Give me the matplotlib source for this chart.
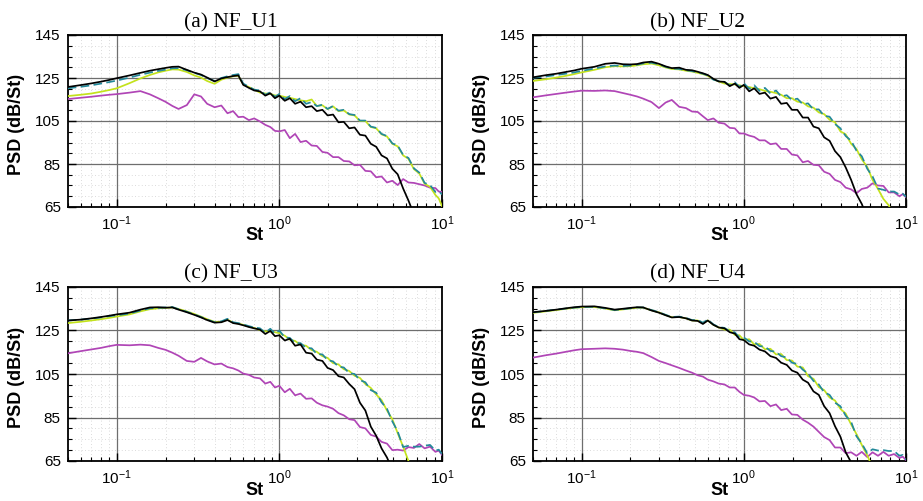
import matplotlib
matplotlib.use("Agg")
import matplotlib.pyplot as plt
from matplotlib.ticker import (FixedLocator, MultipleLocator, LogLocator,
                               LogFormatterSciNotation, NullFormatter)

plt.rcParams["font.family"] = ["Liberation Sans", "DejaVu Sans"]
plt.rcParams["mathtext.fontset"] = "custom"
plt.rcParams["mathtext.rm"] = "Liberation Sans"
plt.rcParams["mathtext.it"] = "Liberation Sans:italic"
plt.rcParams["mathtext.bf"] = "Liberation Sans:bold"
plt.rcParams["axes.unicode_minus"] = False

# Strouhal number grid shared by all spectra
ST = [0.05, 0.06, 0.07, 0.08, 0.09,
      0.10, 0.12, 0.14, 0.16, 0.18,
      0.20, 0.22, 0.24, 0.27, 0.30,
      0.33, 0.36, 0.40, 0.44, 0.48,
      0.52, 0.56, 0.60, 0.65, 0.70,
      0.76, 0.82, 0.88, 0.94, 1.00,
      1.08, 1.16, 1.25, 1.35, 1.46,
      1.58, 1.70, 1.84, 1.98, 2.14,
      2.31, 2.49, 2.69, 2.90, 3.13,
      3.38, 3.65, 3.94, 4.25, 4.59,
      4.95, 5.34, 5.77, 6.22, 6.72,
      7.25, 7.82, 8.44, 9.11, 9.55, 10.0]

# ---- NF_U1 ----
u1_black = [120.8, 121.7, 122.5, 123.3, 124.1,
            124.9, 126.2, 127.4, 128.4, 129.1,
            129.7, 130.2, 130.3, 128.8, 127.5,
            126.6, 125.2, 123.4, 124.8, 125.4,
            125.9, 126.2, 121.8, 120.4, 119.2,
            118.8, 116.8, 117.9, 115.6, 116.8,
            114.4, 115.6, 113.0, 114.0, 111.4,
            111.9, 109.6, 110.2, 107.6, 108.0,
            104.4, 104.6, 101.6, 102.0, 98.6,
            98.2, 94.4, 93.0, 89.0, 87.6,
            82.8, 80.2, 73.6, 68.0, 61.5,
            56.0, 50.0, 45.0, 40.0, 37.0, 34.0]
u1_teal = [120.2, 120.9, 121.6, 122.4, 123.1,
           123.8, 125.2, 126.5, 127.5, 128.3,
           128.9, 129.5, 129.6, 128.6, 127.4,
           126.4, 125.0, 123.6, 125.0, 125.8,
           126.4, 126.8, 122.4, 120.9, 119.6,
           119.2, 117.2, 118.4, 116.2, 117.6,
           115.2, 116.6, 114.2, 115.6, 113.0,
           113.8, 111.9, 112.6, 110.6, 112.0,
           109.8, 110.2, 108.2, 107.8, 105.2,
           105.2, 102.4, 101.8, 99.0, 98.0,
           94.6, 93.6, 89.2, 87.8, 83.0,
           81.0, 76.2, 75.2, 72.0, 72.4, 70.8]
u1_yellow = [116.6, 117.2, 117.8, 118.6, 119.4,
             120.2, 122.6, 124.8, 126.4, 127.6,
             128.4, 129.0, 128.9, 127.8, 126.2,
             125.2, 123.6, 122.3, 124.2, 125.2,
             125.8, 126.0, 122.0, 120.8, 119.6,
             118.2, 117.8, 117.6, 116.9, 116.8,
             116.2, 115.8, 115.2, 114.6, 114.2,
             115.0, 112.0, 112.3, 110.5, 111.8,
             109.6, 109.9, 108.0, 107.6, 105.0,
             105.0, 102.2, 101.6, 98.8, 97.8,
             94.4, 93.2, 89.0, 87.4, 82.6,
             80.6, 75.8, 74.4, 70.6, 69.0, 65.4]
u1_magenta = [115.2, 115.8, 116.3, 116.8, 117.2,
              117.5, 118.2, 118.9, 117.4, 115.6,
              113.9, 112.0, 110.6, 112.4, 117.4,
              116.4, 113.0, 111.4, 112.2, 108.6,
              109.6, 106.8, 107.0, 105.4, 106.2,
              104.8, 103.2, 102.2, 100.4, 100.2,
              100.8, 97.0, 99.0, 95.2, 95.8,
              93.6, 93.4, 90.6, 90.2, 88.2,
              88.2, 86.4, 86.2, 84.4, 84.6,
              81.8, 81.6, 78.8, 79.2, 76.4,
              77.2, 75.2, 78.0, 76.4, 76.2,
              75.6, 75.0, 74.0, 73.8, 72.2, 72.0]

# ---- NF_U2 ----
u2_black = [125.3, 126.3, 127.0, 127.8, 128.5,
            129.3, 130.2, 131.6, 132.0, 131.4,
            131.3, 131.5, 132.2, 132.6, 131.6,
            130.4, 129.6, 129.8, 128.8, 128.6,
            127.9, 127.2, 126.4, 124.6, 123.4,
            123.2, 121.2, 122.4, 120.4, 121.8,
            118.8, 120.2, 117.6, 118.2, 115.4,
            116.2, 113.0, 113.4, 110.2, 110.2,
            106.6, 106.6, 102.4, 101.6, 97.4,
            95.8, 91.0, 88.2, 83.4, 77.6,
            71.0, 66.4, 60.0, 55.0, 50.0,
            46.0, 42.0, 39.0, 36.0, 34.0, 32.0]
u2_teal = [125.1, 125.7, 126.4, 127.0, 127.6,
           128.3, 129.4, 130.4, 130.8, 130.6,
           130.8, 131.2, 131.8, 132.1, 131.4,
           130.2, 129.4, 129.2, 128.6, 128.2,
           127.6, 127.0, 126.2, 124.2, 123.6,
           123.2, 121.6, 123.0, 120.9, 122.6,
           120.0, 121.6, 119.0, 120.4, 117.8,
           119.2, 116.4, 117.0, 114.8, 115.4,
           112.8, 113.2, 110.4, 110.4, 107.4,
           107.0, 103.6, 101.6, 98.0, 95.8,
           91.2, 88.6, 82.8, 79.2, 73.6,
           73.0, 72.2, 72.2, 70.8, 71.2, 69.8]
u2_yellow = [123.6, 124.4, 125.2, 126.0, 126.8,
             127.6, 128.8, 130.0, 130.5, 130.4,
             130.5, 130.9, 131.4, 131.7, 130.9,
             129.9, 129.2, 129.0, 128.4, 128.0,
             127.4, 126.8, 126.0, 124.4, 123.4,
             122.4, 122.2, 122.0, 121.6, 121.2,
             120.8, 120.2, 119.8, 119.0, 118.6,
             118.0, 117.2, 115.6, 115.6, 114.0,
             113.6, 111.8, 111.2, 109.0, 108.2,
             105.6, 104.4, 100.2, 98.8, 94.4,
             92.0, 87.2, 83.6, 77.6, 73.4,
             68.8, 65.8, 61.0, 57.0, 55.0, 53.0]
u2_magenta = [116.0, 116.9, 117.6, 118.2, 118.7,
              119.1, 119.0, 119.2, 118.9, 118.0,
              117.2, 116.4, 115.4, 113.8, 111.0,
              113.6, 114.8, 111.6, 111.0, 109.4,
              109.2, 107.2, 105.4, 106.2, 104.2,
              103.8, 101.8, 101.6, 99.2, 99.2,
              98.2, 97.6, 96.0, 96.0, 94.2,
              94.6, 92.0, 92.0, 89.4, 89.0,
              85.8, 86.4, 84.6, 84.4, 81.4,
              80.4, 77.6, 76.6, 74.0, 73.2,
              71.4, 73.4, 74.0, 76.0, 75.0,
              74.8, 71.8, 71.8, 70.0, 71.0, 69.6]

# ---- NF_U3 ----
u3_black = [129.6, 130.0, 130.6, 131.2, 131.8,
            132.4, 133.2, 134.6, 135.6, 135.7,
            135.5, 135.6, 134.6, 133.4, 132.2,
            131.0, 129.8, 128.6, 128.8, 129.8,
            128.4, 128.0, 127.4, 126.6, 126.0,
            125.4, 123.4, 124.8, 122.4, 122.8,
            120.4, 121.2, 118.0, 118.6, 114.8,
            114.4, 111.6, 111.0, 107.8, 106.8,
            104.0, 103.4, 100.4, 98.0, 91.8,
            88.2, 80.8, 76.6, 70.8, 66.6,
            61.0, 56.0, 52.0, 48.0, 44.0,
            41.0, 38.0, 35.0, 32.0, 30.0, 29.0]
u3_teal = [129.6, 130.0, 130.5, 131.0, 131.6,
           132.0, 132.8, 134.2, 135.2, 135.4,
           135.6, 135.8, 134.8, 133.6, 132.4,
           131.2, 130.0, 128.8, 129.2, 130.4,
           128.8, 128.4, 127.8, 127.0, 126.4,
           126.0, 124.0, 125.8, 123.6, 125.0,
           121.8, 121.6, 119.2, 119.2, 117.0,
           116.8, 114.2, 114.0, 111.4, 110.8,
           108.4, 108.0, 105.4, 105.0, 102.2,
           101.2, 97.6, 96.4, 92.0, 89.0,
           83.2, 78.6, 71.4, 72.0, 71.6,
           71.6, 72.0, 72.4, 69.8, 70.2, 68.2]
u3_yellow = [128.4, 129.0, 129.6, 130.2, 130.8,
             131.4, 132.4, 133.8, 134.8, 135.2,
             135.4, 135.6, 134.9, 133.8, 132.6,
             131.4, 130.2, 129.0, 129.0, 130.0,
             128.6, 128.2, 127.6, 126.8, 126.2,
             125.2, 124.6, 124.6, 124.2, 123.8,
             122.6, 120.8, 120.2, 118.4, 118.0,
             116.0, 115.2, 113.2, 112.4, 110.0,
             109.4, 107.2, 106.4, 104.2, 103.2,
             100.4, 98.6, 95.6, 93.0, 88.2,
             84.2, 77.8, 71.6, 65.0, 60.0,
             55.0, 50.0, 46.0, 42.0, 40.0, 38.0]
u3_magenta = [114.5, 115.5, 116.3, 117.0, 117.8,
              118.4, 118.2, 118.5, 118.2, 117.0,
              116.1, 114.8, 113.4, 111.0, 110.6,
              112.4, 110.8, 109.4, 109.8, 108.2,
              107.6, 106.6, 105.2, 104.6, 103.4,
              103.0, 100.6, 101.4, 98.8, 99.6,
              96.6, 98.2, 95.2, 96.0, 93.6,
              93.8, 91.8, 90.6, 90.0, 89.0,
              87.0, 86.0, 84.2, 83.8, 80.6,
              80.0, 77.0, 76.2, 73.8, 73.0,
              70.0, 70.2, 69.8, 71.4, 71.0,
              72.8, 70.8, 71.6, 69.2, 69.8, 67.8]

# ---- NF_U4 ----
u4_black = [133.4, 134.0, 134.6, 135.2, 135.7,
            136.0, 136.1, 135.4, 134.6, 135.0,
            135.4, 135.7, 135.6, 134.2, 133.2,
            132.0, 131.0, 131.2, 130.6, 129.6,
            129.4, 128.0, 129.6, 127.6, 126.4,
            126.0, 124.2, 123.6, 121.0, 120.6,
            118.6, 118.0, 116.2, 115.4, 113.2,
            112.4, 110.2, 109.2, 106.6, 105.6,
            102.4, 101.0, 97.0, 95.4, 90.2,
            87.0, 81.0, 76.2, 69.0, 64.4,
            59.0, 54.0, 50.0, 46.0, 42.0,
            38.0, 35.0, 32.0, 30.0, 28.0, 27.0]
u4_teal = [133.3, 134.0, 134.6, 135.1, 135.5,
           135.8, 135.9, 135.2, 134.4, 134.8,
           135.2, 135.6, 135.6, 134.4, 133.4,
           132.2, 131.2, 131.4, 130.8, 129.8,
           129.8, 128.6, 130.0, 127.8, 126.6,
           126.2, 124.6, 124.2, 121.8, 121.8,
           120.0, 119.8, 117.8, 117.6, 115.6,
           115.2, 113.2, 112.6, 110.2, 109.6,
           107.0, 105.2, 101.8, 100.2, 96.6,
           95.4, 91.8, 90.2, 85.8, 83.0,
           76.4, 73.0, 68.6, 70.4, 69.8,
           70.0, 69.6, 69.6, 67.4, 67.8, 65.6]
u4_yellow = [133.1, 133.8, 134.4, 135.0, 135.4,
             135.7, 135.8, 135.1, 134.3, 134.7,
             135.1, 135.5, 135.5, 134.3, 133.3,
             132.1, 131.1, 131.2, 130.6, 129.6,
             129.6, 128.4, 129.6, 127.6, 126.4,
             125.4, 125.4, 123.0, 122.8, 120.6,
             121.0, 118.6, 118.8, 116.4, 116.6,
             114.0, 114.2, 111.4, 111.2, 108.4,
             108.0, 104.0, 102.8, 99.0, 97.6,
             94.2, 92.8, 89.0, 86.8, 81.8,
             77.4, 72.4, 67.6, 62.0, 58.0,
             54.0, 50.0, 47.0, 44.0, 42.0, 40.0]
u4_magenta = [112.5, 113.6, 114.4, 115.2, 115.9,
              116.4, 116.6, 116.8, 116.6, 116.2,
              115.6, 115.2, 114.6, 112.8, 111.0,
              110.0, 109.0, 107.8, 106.6, 105.6,
              104.4, 103.8, 102.4, 101.6, 100.6,
              100.2, 98.8, 98.8, 96.8, 95.4,
              95.0, 94.2, 92.4, 92.6, 90.2,
              91.0, 88.4, 89.0, 86.4, 86.2,
              84.0, 82.6, 80.8, 78.4, 76.0,
              74.6, 71.2, 71.2, 68.6, 69.0,
              67.4, 69.2, 66.8, 69.0, 67.4,
              69.2, 67.4, 68.2, 66.4, 67.0, 65.4]

PANEL_TITLES = ["(a) NF_U1", "(b) NF_U2", "(c) NF_U3", "(d) NF_U4"]
PANEL_DATA = [
    (u1_black, u1_teal, u1_yellow, u1_magenta),
    (u2_black, u2_teal, u2_yellow, u2_magenta),
    (u3_black, u3_teal, u3_yellow, u3_magenta),
    (u4_black, u4_teal, u4_yellow, u4_magenta),
]
Y_TICKS = [65, 85, 105, 125, 145]

C_BLACK = "#000000"
C_TEAL = "#23899a"
C_YELLOW = "#c3e21c"
C_MAGENTA = "#b045b6"

W, H = 923, 501
fig = plt.figure(figsize=(W / 100, H / 100), dpi=100)


def box(left, top, right, bottom):
    return [left / W, 1 - bottom / H, (right - left) / W, (bottom - top) / H]


axes_boxes = [box(67.7, 35, 442, 207), box(532.7, 35, 906, 207),
              box(67.7, 287, 442, 461), box(532.7, 287, 906, 461)]
title_pos = [(231, 27), (697, 27), (231, 278), (697, 278)]

for k, (pos, title, data) in enumerate(zip(axes_boxes, PANEL_TITLES, PANEL_DATA)):
    ax = fig.add_axes(pos)
    ax.set_xscale("log")
    black, teal, yellow, magenta = data

    ax.plot(ST, magenta, color=C_MAGENTA, lw=1.25, zorder=3)
    ax.plot(ST, yellow, color=C_YELLOW, lw=1.25, zorder=4)
    ax.plot(ST, teal, color=C_TEAL, lw=1.25, dashes=(5, 2.5), zorder=5)
    ax.plot(ST, black, color=C_BLACK, lw=1.25, zorder=6)

    ax.set_xlim(0.05, 10)
    ax.set_ylim(65, 145)
    ax.yaxis.set_major_locator(FixedLocator(Y_TICKS))
    ax.yaxis.set_minor_locator(MultipleLocator(5))
    ax.xaxis.set_major_locator(LogLocator(base=10))
    ax.xaxis.set_major_formatter(LogFormatterSciNotation(base=10))
    ax.xaxis.set_minor_locator(LogLocator(base=10, subs=range(2, 10)))
    ax.xaxis.set_minor_formatter(NullFormatter())

    ax.set_axisbelow(True)
    ax.grid(which="major", color="#6e6e6e", lw=0.9, ls="-")
    ax.grid(which="minor", color="#cfcfcf", lw=0.6, ls=(0, (1, 3)))

    ax.tick_params(which="both", direction="in", labelsize=11, pad=5,
                   top=False, right=False)
    ax.tick_params(which="major", length=6, width=1.0)
    ax.tick_params(which="minor", length=3, width=0.8)
    for sp in ax.spines.values():
        sp.set_linewidth(1.3)

    ax.set_ylabel("PSD (dB/St)", fontsize=13, fontweight="bold", va="center")
    ax.yaxis.set_label_coords(-0.136, 0.48)
    ax.set_xlabel("St", fontsize=13, fontweight="bold", va="top")
    ax.xaxis.set_label_coords(0.5, -0.118)

    tx, ty = title_pos[k]
    fig.text(tx / W, 1 - ty / H, title, ha="center", va="baseline",
             fontsize=15.5, family=["Liberation Serif", "DejaVu Serif"])

fig.savefig("out.png", dpi=100)
